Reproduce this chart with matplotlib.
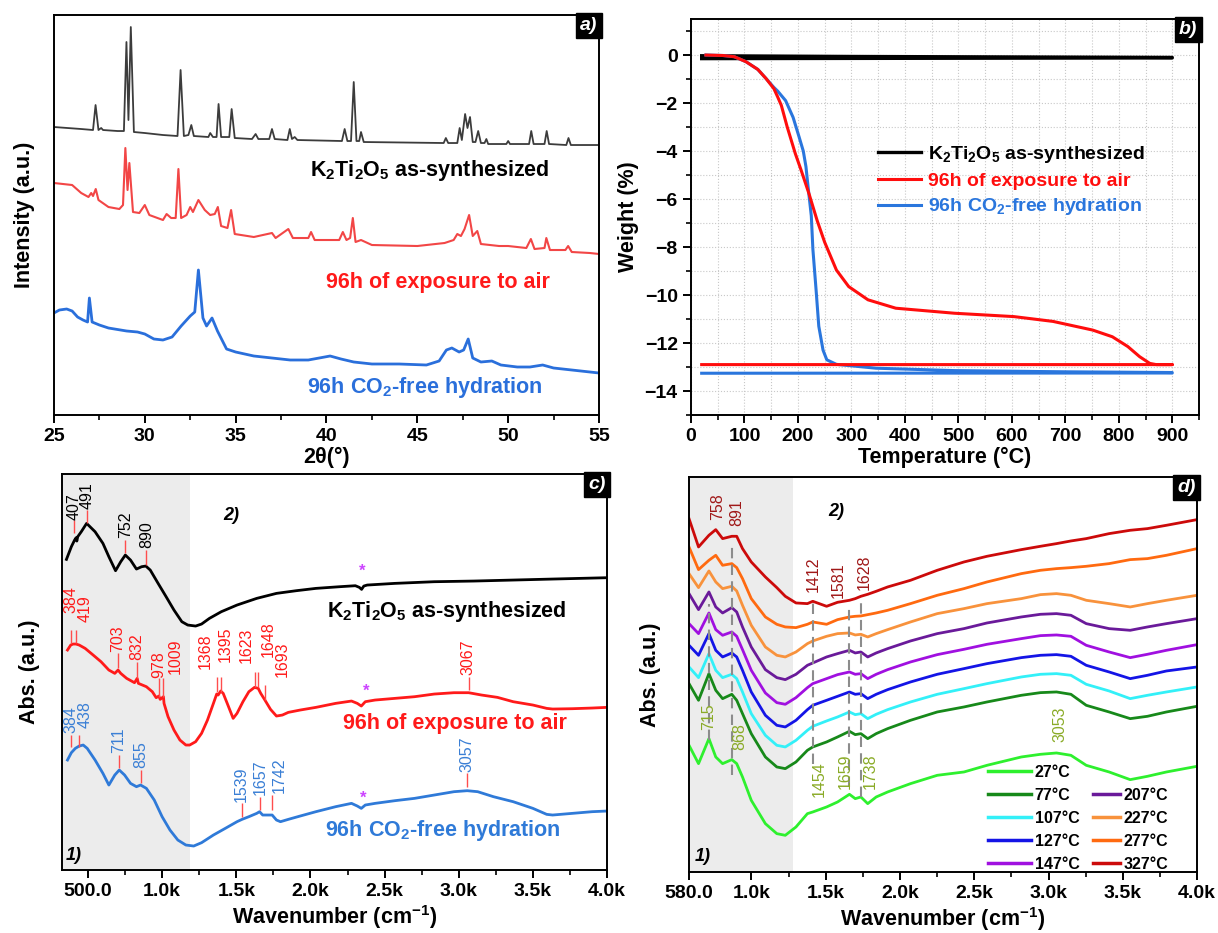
import matplotlib
matplotlib.use("Agg")
import matplotlib.pyplot as plt
from matplotlib.lines import Line2D
from matplotlib.ticker import MultipleLocator, FixedLocator, FuncFormatter

plt.rcParams['font.family'] = ['Liberation Sans', 'DejaVu Sans']
plt.rcParams['font.weight'] = 'bold'
plt.rcParams['axes.labelweight'] = 'bold'
plt.rcParams['mathtext.default'] = 'regular'
plt.rcParams['axes.linewidth'] = 1.4

# ---------------- a) XRD ----------------
xrd_asyn_2t = [25.0, 26.5, 27.15, 27.29, 27.45, 27.6, 27.7, 28.5, 28.85, 28.99, 29.1, 29.23, 29.4, 30.0, 31.0, 31.8,
               31.97, 32.15, 32.4, 32.56, 32.7, 33.5, 33.6, 33.75, 33.95, 34.06, 34.2, 34.65, 34.78, 34.95, 35.9,
               36.1, 36.25, 36.85, 37.0, 37.15, 37.85, 37.98, 38.1, 38.25, 38.4, 40.85, 41.0, 41.15, 41.35, 41.5,
               41.65, 41.8, 41.9, 42.05, 46.45, 46.57, 46.7, 47.2, 47.33, 47.45, 47.63, 47.76, 47.9, 48.05, 48.2,
               48.35, 48.5, 48.7, 48.8, 48.9, 49.9, 50.0, 50.1, 51.15, 51.27, 51.4, 52.0, 52.12, 52.25, 53.2, 53.32,
               53.45, 55.0]
xrd_asyn_i = [288, 286, 285, 310, 285, 287, 285, 284, 284, 373, 295, 388, 283, 282, 280, 279,
              345, 279, 280, 290, 279, 278, 282, 278, 278, 311, 278, 278, 306, 277, 276,
              281, 276, 276, 286, 276, 275, 286, 276, 278, 275, 274, 286, 274, 274, 333,
              274, 274, 283, 273, 272, 277, 272, 272, 287, 275, 301, 287, 298, 273, 273,
              284, 272, 272, 276, 271, 271, 274, 271, 271, 284, 271, 271, 284, 271, 270, 277,
              270, 270]

xrd_air_2t = [25.0, 25.5, 26.0, 26.5, 26.9, 27.05, 27.15, 27.3, 27.45, 28.0, 28.6, 28.8, 28.93, 29.05, 29.15, 29.35,
              29.7, 30.0, 30.25, 31.0, 31.2, 31.45, 31.7, 31.85, 32.0, 32.3, 32.5, 32.65, 32.95, 33.3, 33.6,
              33.85, 34.02, 34.2, 34.55, 34.75, 34.95, 36.0, 37.0, 37.2, 37.9, 38.15, 39.0, 39.15, 39.35, 40.7,
              40.9, 41.1, 41.3, 41.45, 41.6, 41.9, 42.5, 45.0, 46.5, 47.0, 47.2, 47.4, 47.6, 47.85, 48.05, 48.3,
              48.5, 49.5, 50.0, 51.0, 51.25, 51.45, 52.0, 52.1, 52.3, 53.15, 53.3, 53.5, 54.5, 55.0]
xrd_air_i = [232, 231, 230, 222, 218, 222, 219, 226, 215, 208, 206, 210, 267, 225, 252, 203,
             202, 210, 200, 195, 201, 197, 197, 246, 197, 200, 208, 203, 215, 205, 200,
             201, 208, 189, 187, 205, 181, 178, 182, 177, 186, 177, 177, 183, 175, 175,
             183, 175, 177, 197, 173, 175, 170, 169, 172, 175, 181, 179, 186, 200, 179, 184,
             171, 169, 169, 167, 176, 166, 167, 177, 165, 165, 169, 163, 162, 161]

xrd_free_2t = [25.0, 25.3, 25.7, 26.0, 26.3, 26.6, 26.85, 26.95, 27.1, 27.5, 28.0, 29.0, 29.6, 30.0, 30.5, 31.0,
               31.5, 32.0, 32.5, 32.75, 32.95, 33.2, 33.4, 33.7, 34.0, 34.5, 35.0, 36.0, 37.0, 38.0, 39.0, 39.6,
               40.2, 40.8, 41.5, 42.5, 44.0, 45.5, 46.2, 46.6, 46.9, 47.3, 47.55, 47.8, 48.05, 48.5, 49.1, 49.6,
               50.5, 51.2, 51.9, 52.5, 53.5, 55.0]
xrd_free_i = [102, 105, 106, 104, 98, 95, 93, 117, 93, 90, 87, 84, 83, 81, 76, 75,
              78, 89, 99, 103, 145, 97, 89, 97, 84, 66, 63, 59, 57, 55, 55, 57,
              59, 56, 53, 51, 51, 50, 54, 65, 67, 63, 65, 76, 57, 53, 54, 50,
              48, 48, 50, 47, 45, 42]

# ---------------- b) TGA ----------------
tga_asyn_t = [20, 300, 600, 900, 900, 20]
tga_asyn_w = [-0.03, -0.06, -0.08, -0.10, -0.12, -0.15]
tga_air_t = [28, 60, 81, 103, 125, 140, 155, 162, 169, 180, 195, 206, 221, 236, 250, 272, 295, 331, 383, 493,
             604, 677, 751, 788, 817, 839, 858, 870, 900, 20]
tga_air_w = [0, -0.02, -0.07, -0.28, -0.6, -0.97, -1.4, -1.74, -2.1, -3.0, -4.1, -4.8, -5.8, -6.9, -7.8, -8.96,
             -9.65, -10.2, -10.55, -10.76, -10.9, -11.1, -11.46, -11.74, -12.15, -12.57, -12.85, -12.9, -12.9,
             -12.9]
tga_free_t = [28, 60, 81, 103, 125, 140, 155, 162, 177, 191, 202, 210, 215, 219, 225, 228, 234, 239, 247, 254,
              272, 346, 493, 700, 900, 900, 20]
tga_free_w = [0, -0.02, -0.07, -0.28, -0.6, -0.97, -1.35, -1.5, -1.9, -2.6, -3.4, -4.0, -4.65, -5.5, -6.7, -8.1,
              -9.8, -11.3, -12.3, -12.7, -12.89, -13.05, -13.15, -13.2, -13.23, -13.25, -13.26]

# ---------------- c) FTIR of the three samples ----------------
ir_asyn_wn = [355, 388, 410, 420, 425, 431, 455, 491, 548, 601, 641, 686, 721, 752, 787, 827, 862, 890, 920, 973,
              1027, 1080, 1133, 1173, 1226, 1266, 1319, 1399, 1505, 1638, 1771, 1904, 2037, 2197, 2303, 2330,
              2345, 2360, 2383, 2569, 2835, 3101, 3367, 3633, 4000]
ir_asyn_a = [9.32, 9.70, 9.90, 9.97, 9.87, 10.0, 10.15, 10.40, 10.15, 9.80, 9.40, 8.98, 9.25, 9.45, 9.30, 9.03,
             9.10, 9.12, 9.0, 8.60, 8.20, 7.80, 7.45, 7.35, 7.32, 7.38, 7.55, 7.75, 7.95, 8.15, 8.30, 8.38, 8.45,
             8.50, 8.53, 8.48, 8.42, 8.52, 8.55, 8.60, 8.65, 8.67, 8.70, 8.73, 8.77]

ir_air_wn = [362, 384, 400, 419, 441, 481, 535, 588, 641, 681, 703, 721, 761, 814, 832, 840, 894, 934, 960, 978,
             987, 1009, 1013, 1040, 1080, 1120, 1160, 1186, 1226, 1266, 1306, 1346, 1368, 1378, 1395, 1412, 1439,
             1479, 1505, 1545, 1585, 1623, 1648, 1665, 1693, 1731, 1771, 1811, 1851, 1931, 2037, 2170, 2277, 2316,
             2343, 2370, 2436, 2569, 2702, 2835, 2968, 3067, 3154, 3261, 3367, 3500, 3593, 3633, 3766, 3899, 4000]
ir_air_a = [6.60, 6.75, 6.78, 6.78, 6.75, 6.65, 6.45, 6.25, 6.00, 5.90, 6.00, 5.90, 5.75, 5.62, 5.75, 5.60, 5.50,
            5.35, 5.17, 5.22, 5.12, 5.20, 5.00, 4.60, 4.20, 3.90, 3.75, 3.75, 3.85, 4.10, 4.50, 5.00, 5.28, 5.25,
            5.37, 5.30, 5.00, 4.55, 4.70, 5.05, 5.35, 5.48, 5.45, 5.30, 5.10, 4.82, 4.62, 4.65, 4.73, 4.80, 4.88,
            5.00, 5.07, 5.00, 4.92, 5.05, 5.10, 5.15, 5.20, 5.28, 5.32, 5.32, 5.25, 5.18, 5.05, 4.95, 4.85, 4.83,
            4.84, 4.86, 4.88]

ir_free_wn = [362, 388, 415, 441, 468, 495, 548, 601, 641, 681, 711, 747, 787, 827, 855, 894, 947, 1000, 1053,
              1106, 1160, 1213, 1266, 1346, 1426, 1505, 1539, 1585, 1638, 1657, 1678, 1718, 1742, 1771, 1798, 1851,
              1931, 2037, 2170, 2277, 2316, 2343, 2370, 2436, 2569, 2702, 2835, 2968, 3057, 3128, 3234, 3367, 3500,
              3593, 3633, 3766, 3899, 4000]
ir_free_a = [3.30, 3.52, 3.65, 3.72, 3.75, 3.65, 3.30, 2.90, 2.55, 2.85, 3.00, 2.85, 2.60, 2.50, 2.55, 2.45, 2.10,
             1.60, 1.20, 0.90, 0.75, 0.72, 0.82, 1.05, 1.25, 1.45, 1.52, 1.60, 1.70, 1.75, 1.65, 1.65, 1.65, 1.50,
             1.45, 1.52, 1.62, 1.75, 1.90, 2.00, 1.92, 1.85, 1.95, 2.00, 2.08, 2.15, 2.25, 2.35, 2.38, 2.35, 2.20,
             2.05, 1.85, 1.67, 1.65, 1.70, 1.75, 1.77]

peaks_asyn = [407, 491, 752, 890]
peaks_air = [384, 419, 703, 832, 978, 1009, 1368, 1395, 1623, 1648, 1693, 3067]
peaks_free = [384, 438, 711, 855, 1539, 1657, 1742, 3057]

# ---------------- d) in-situ FTIR vs temperature ----------------
d_wn = [580, 644, 714, 760, 806, 868, 901, 940, 999, 1094, 1171, 1228, 1300, 1377, 1413, 1506, 1580, 1660, 1699,
        1737, 1783, 1840, 1917, 2071, 2251, 2431, 2586, 2817, 2946, 3054, 3151, 3254, 3408, 3550, 3666, 3794, 4000]
d_27 = [3.80, 3.25, 4.00, 3.45, 3.25, 3.37, 3.25, 2.85, 2.15, 1.45, 1.15, 1.10, 1.35, 1.75, 1.80, 1.95, 2.10, 2.33,
        2.20, 2.25, 2.05, 2.25, 2.40, 2.65, 2.90, 3.00, 3.20, 3.45, 3.53, 3.57, 3.50, 3.20, 3.00, 2.77, 2.87, 3.00, 3.17]
d_77 = [5.65, 5.15, 5.95, 5.45, 5.20, 5.33, 5.15, 4.75, 4.15, 3.45, 3.15, 3.10, 3.30, 3.65, 3.75, 3.90, 4.05, 4.22,
        4.12, 4.15, 4.00, 4.15, 4.30, 4.55, 4.80, 4.95, 5.10, 5.30, 5.38, 5.40, 5.33, 5.00, 4.80, 4.60, 4.67, 4.80, 4.97]
d_107 = [6.15, 5.83, 6.55, 6.05, 5.83, 5.93, 5.80, 5.40, 4.75, 4.10, 3.80, 3.75, 3.95, 4.25, 4.37, 4.53, 4.65, 4.80,
         4.72, 4.75, 4.60, 4.73, 4.87, 5.10, 5.33, 5.50, 5.65, 5.85, 5.93, 5.95, 5.90, 5.63, 5.43, 5.20, 5.30, 5.40, 5.55]
d_127 = [6.80, 6.50, 7.15, 6.65, 6.45, 6.57, 6.45, 6.05, 5.40, 4.70, 4.40, 4.35, 4.55, 4.87, 5.00, 5.15, 5.27, 5.40,
         5.33, 5.35, 5.20, 5.33, 5.47, 5.70, 5.93, 6.10, 6.25, 6.43, 6.50, 6.52, 6.47, 6.20, 6.00, 5.80, 5.90, 6.03, 6.15]
d_147 = [7.45, 7.15, 7.77, 7.27, 7.10, 7.20, 7.07, 6.67, 6.05, 5.37, 5.08, 5.03, 5.23, 5.53, 5.65, 5.80, 5.92, 6.00,
         5.93, 5.95, 5.80, 5.93, 6.07, 6.30, 6.52, 6.68, 6.83, 7.00, 7.09, 7.11, 7.07, 6.80, 6.60, 6.43, 6.53, 6.65, 6.82]
d_207 = [8.35, 7.87, 8.40, 7.95, 7.77, 7.93, 7.80, 7.35, 6.75, 6.07, 5.83, 5.77, 5.93, 6.20, 6.27, 6.45, 6.55, 6.65,
         6.57, 6.60, 6.45, 6.57, 6.70, 6.93, 7.15, 7.30, 7.47, 7.65, 7.73, 7.75, 7.70, 7.45, 7.30, 7.25, 7.35, 7.45, 7.60]
d_227 = [8.95, 8.53, 9.03, 8.70, 8.50, 8.57, 8.43, 8.00, 7.40, 6.75, 6.50, 6.45, 6.60, 6.85, 6.93, 7.07, 7.15, 7.17,
         7.11, 7.13, 7.05, 7.15, 7.27, 7.50, 7.75, 7.90, 8.05, 8.20, 8.32, 8.35, 8.30, 8.15, 8.05, 7.95, 8.05, 8.15, 8.30]
d_277 = [9.75, 9.07, 9.35, 9.50, 9.20, 9.25, 9.13, 8.80, 8.20, 7.65, 7.43, 7.35, 7.33, 7.43, 7.50, 7.43, 7.57, 7.65,
         7.67, 7.68, 7.72, 7.77, 7.85, 8.05, 8.30, 8.50, 8.70, 8.95, 9.05, 9.10, 9.13, 9.17, 9.25, 9.37, 9.40, 9.50, 9.70]
d_327 = [10.60, 9.75, 10.10, 10.27, 10.00, 10.07, 10.07, 9.70, 9.30, 8.85, 8.53, 8.27, 8.07, 8.05, 8.12, 7.97, 8.09,
         8.15, 8.20, 8.27, 8.33, 8.42, 8.55, 8.75, 9.05, 9.30, 9.47, 9.67, 9.77, 9.85, 9.93, 10.00, 10.15, 10.25, 10.30,
         10.40, 10.57]
d_temps = ['27°C', '77°C', '107°C', '127°C', '147°C', '207°C', '227°C', '277°C', '327°C']
d_curves = [d_27, d_77, d_107, d_127, d_147, d_207, d_227, d_277, d_327]
d_colors = ['#2ef02e', '#17891a', '#33f0f8', '#1414e6', '#a010e0', '#6a1a9a', '#f8923c', '#ff6a10', '#cc0a0a']

peaks_hot = [758, 891, 1412, 1581, 1628]
peaks_cold = [715, 868, 1454, 1659, 1738, 3053]
d_dashed = [715, 868, 1412, 1659, 1738]


def panel_tag(ax, tag):
    ax.text(0.997, 0.995, tag, transform=ax.transAxes, ha='right', va='top', color='white',
            fontsize=14, fontstyle='italic', fontweight='bold',
            bbox=dict(boxstyle='square,pad=0.22', fc='black', ec='black'))


def k_format(v, pos):
    if v < 1000:
        return f'{v:.1f}'
    return f'{v / 1000:.1f}k'


def ir_axes(ax, x0):
    ax.set_xlim(x0, 4000)
    ax.set_yticks([])
    ax.xaxis.set_major_locator(FixedLocator([x0] + list(range(1000, 4001, 500))) if x0 > 500
                               else MultipleLocator(500))
    ax.xaxis.set_minor_locator(FixedLocator(list(range(1250, 4000, 500)) + ([750] if x0 < 500 else [])))
    ax.xaxis.set_major_formatter(FuncFormatter(k_format))
    ax.tick_params(axis='x', which='major', direction='out', length=6, width=1.4, labelsize=14)
    ax.tick_params(axis='x', which='minor', direction='out', length=3.5, width=1.2)
    ax.set_xlabel('Wavenumber (cm$^{-1}$)', fontsize=15.5, labelpad=2)
    ax.set_ylabel('Abs. (a.u.)', fontsize=15.5, labelpad=16)


def peak_marks(ax, peaks, text_x, text_y, y0, y1, color, line_color):
    for p, tx, ty in zip(peaks, text_x, text_y):
        ax.text(tx, ty, str(p), rotation=90, ha='center', va='bottom', color=color,
                fontsize=11.5, fontweight='normal')
    if y0 is not None:
        ax.vlines(peaks, y0, y1, color=line_color, lw=1.0)


fig = plt.figure(figsize=(12.18, 9.33), dpi=100)
ax_a = fig.add_axes([0.0443, 0.5552, 0.4475, 0.4287])
ax_b = fig.add_axes([0.5673, 0.5552, 0.4171, 0.4244])
ax_c = fig.add_axes([0.0509, 0.0675, 0.4475, 0.4244])
ax_d = fig.add_axes([0.5657, 0.0654, 0.4171, 0.4234])

# a) diffractograms
ax_a.plot(xrd_asyn_2t, xrd_asyn_i, color='#3c3c3c', lw=1.3)
ax_a.plot(xrd_air_2t, xrd_air_i, color='#f24646', lw=1.5)
ax_a.plot(xrd_free_2t, xrd_free_i, color='#2a6fdb', lw=2.0)
ax_a.set_xlim(25, 55)
ax_a.set_ylim(0, 400)
ax_a.set_yticks([])
ax_a.xaxis.set_major_locator(MultipleLocator(5))
ax_a.xaxis.set_minor_locator(MultipleLocator(2.5))
ax_a.tick_params(axis='x', which='major', direction='out', length=6, width=1.4, labelsize=14)
ax_a.tick_params(axis='x', which='minor', direction='out', length=3.5, width=1.2)
ax_a.set_xlabel('2θ(°)', fontsize=15.5, labelpad=1)
ax_a.set_ylabel('Intensity (a.u.)', fontsize=15.5, labelpad=14)
ax_a.text(52.28, 245, 'K$_2$Ti$_2$O$_5$ as-synthesized', ha='right', va='center', fontsize=15.5, color='black')
ax_a.text(52.28, 133, '96h of exposure to air', ha='right', va='center', fontsize=15.5, color='#ff1a1a')
ax_a.text(51.9, 27, '96h CO$_2$-free hydration', ha='right', va='center', fontsize=15.5, color='#2a6fdb')
panel_tag(ax_a, 'a)')

# b) thermogravimetry
ax_b.plot(tga_asyn_t, tga_asyn_w, color='black', lw=2.4, label='K$_2$Ti$_2$O$_5$ as-synthesized')
ax_b.plot(tga_free_t, tga_free_w, color='#2a76dd', lw=2.2, label='96h CO$_2$-free hydration')
ax_b.plot(tga_air_t, tga_air_w, color='#ff0d0d', lw=2.2, label='96h of exposure to air')
ax_b.set_xlim(0, 950)
ax_b.set_ylim(-15, 1.5)
ax_b.xaxis.set_major_locator(MultipleLocator(100))
ax_b.xaxis.set_minor_locator(MultipleLocator(50))
ax_b.yaxis.set_major_locator(MultipleLocator(2))
ax_b.yaxis.set_minor_locator(MultipleLocator(1))
ax_b.grid(which='both', ls=':', color='#c8c8c8', lw=0.8)
ax_b.set_axisbelow(True)
ax_b.tick_params(which='major', direction='out', length=6, width=1.4, labelsize=14)
ax_b.tick_params(which='minor', direction='out', length=3.5, width=1.2)
ax_b.set_xlabel('Temperature (°C)', fontsize=15.5, labelpad=1)
ax_b.set_ylabel('Weight (%)', fontsize=15.5, labelpad=4)
h, l = ax_b.get_legend_handles_labels()
order = [0, 2, 1]
leg_b = ax_b.legend([h[i] for i in order], [l[i] for i in order], loc='upper left',
                    bbox_to_anchor=(0.368, 0.684), frameon=False, fontsize=14, handlelength=2.2,
                    handletextpad=0.35, labelspacing=0.35, borderpad=0, borderaxespad=0)
for txt, c in zip(leg_b.get_texts(), ['black', '#ff0d0d', '#2a76dd']):
    txt.set_color(c)
panel_tag(ax_b, 'b)')

# c) FTIR of the samples
ax_c.axvspan(325, 1188, color='#ececec', lw=0, zorder=0)
ax_c.plot(ir_asyn_wn, ir_asyn_a, color='black', lw=2.0)
ax_c.plot(ir_air_wn, ir_air_a, color='#ff1a1a', lw=2.0)
ax_c.plot(ir_free_wn, ir_free_a, color='#2f7ad8', lw=2.0)
ax_c.set_ylim(0, 11.88)
ir_axes(ax_c, 325)
peak_marks(ax_c, peaks_asyn, [410, 495, 755, 894], [10.5, 10.82, 9.95, 9.65],
           [10.1, 10.42, 9.5, 9.15], [10.5, 10.8, 9.9, 9.6], 'black', '#ff4d4d')
peak_marks(ax_c, peaks_air, [388, 481, 699, 832, 979, 1088, 1293, 1426, 1564, 1713, 1811, 3061],
           [7.7, 7.45, 6.55, 6.3, 5.75, 5.88, 6.02, 6.25, 6.2, 6.4, 5.78, 5.85],
           [6.8, 6.8, 6.05, 5.75, 5.2, 5.2, 5.35, 5.35, 5.5, 5.5, 5.1, 5.4],
           [7.2, 7.2, 6.5, 6.25, 5.75, 5.75, 5.8, 5.8, 5.95, 5.95, 5.55, 5.8], '#ff1a1a', '#ff4d4d')
peak_marks(ax_c, peaks_free, [383, 481, 707, 854, 1532, 1660, 1793, 3056],
           [4.1, 4.25, 3.5, 3.05, 2.05, 2.25, 2.3, 2.95],
           [3.7, 3.7, 3.05, 2.6, 1.6, 1.8, 1.8, 2.5],
           [4.05, 4.05, 3.45, 3.0, 2.0, 2.2, 2.25, 2.9], '#3a7fd5', '#ff4d4d')
for wx, wy in [(2351, 8.97), (2378, 5.35), (2357, 2.15)]:
    ax_c.text(wx, wy, '*', color='#cc44ff', fontsize=12, ha='center', va='center')
ax_c.text(3726, 7.75, 'K$_2$Ti$_2$O$_5$ as-synthesized', ha='right', va='center', fontsize=15.5, color='black')
ax_c.text(3726, 4.4, '96h of exposure to air', ha='right', va='center', fontsize=15.5, color='#ff1a1a')
ax_c.text(3686, 1.2, '96h CO$_2$-free hydration', ha='right', va='center', fontsize=15.5, color='#2f7ad8')
ax_c.text(1465, 10.65, '2)', fontsize=13, fontstyle='italic', ha='center', va='center')
ax_c.text(402, 0.45, '1)', fontsize=13, fontstyle='italic', ha='center', va='center')
panel_tag(ax_c, 'c)')

# d) spectra recorded while heating
ax_d.axvspan(580, 1282, color='#ececec', lw=0, zorder=0)
for y, c in zip(d_curves, d_colors):
    ax_d.plot(d_wn, y, color=c, lw=2.0)
ax_d.vlines(d_dashed, [3.95, 2.9, 3.25, 2.54, 2.24], [8.05, 9.9, 8.09, 7.94, 8.09],
            colors='#8c8c8c', linestyles=(0, (5, 3)), lw=1.5, zorder=3)
peak_marks(ax_d, peaks_hot, [773, 903, 1414, 1586, 1760], [10.55, 10.38, 8.39, 8.21, 8.45],
           None, None, '#a01818', None)
peak_marks(ax_d, peaks_cold, [714, 919, 1454, 1629, 1801, 3079], [4.25, 3.65, 2.25, 2.5, 2.5, 3.9],
           None, None, '#8aab27', None)
ax_d.set_ylim(0, 11.85)
ir_axes(ax_d, 580)
ax_d.set_ylabel('Abs. (a.u.)', fontsize=15.5, labelpad=20)
ax_d.text(1570, 10.8, '2)', fontsize=13, fontstyle='italic', ha='center', va='center')
ax_d.text(670, 0.45, '1)', fontsize=13, fontstyle='italic', ha='center', va='center')

# legend in two blocks: first five temperatures, then the four hottest one row lower
handles = [Line2D([], [], color=c, lw=2.5) for c in d_colors]
leg_lo = ax_d.legend(handles[:5], d_temps[:5], loc='lower left', bbox_to_anchor=(0.589, 0.0),
                     frameon=False, fontsize=11.5, handlelength=2.65, handletextpad=0.25,
                     labelspacing=0.5, borderpad=0, borderaxespad=0)
ax_d.add_artist(leg_lo)
ax_d.legend(handles[5:], d_temps[5:], loc='lower left', bbox_to_anchor=(0.795, 0.0),
            frameon=False, fontsize=11.5, handlelength=1.7, handletextpad=0.2,
            labelspacing=0.5, borderpad=0, borderaxespad=0)
panel_tag(ax_d, 'd)')

fig.savefig('out.png', dpi=100)
